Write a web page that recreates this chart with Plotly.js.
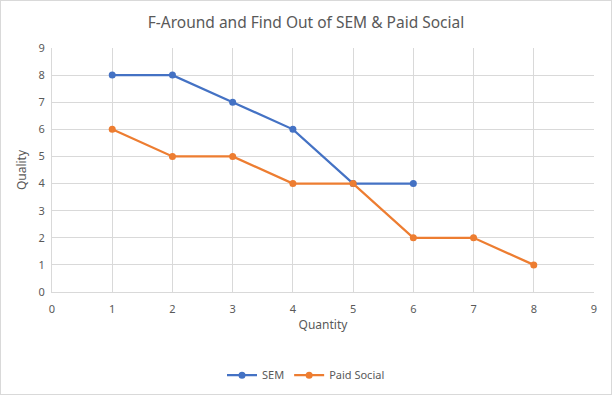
<!DOCTYPE html>
<html>
<head>
<meta charset="utf-8">
<script src="https://cdn.plot.ly/plotly-3.0.1.min.js"></script>
<style>
html,body{margin:0;padding:0;background:#fff;}
#chart{width:610px;height:393px;border:1px solid #d9d9d9;}
</style>
</head>
<body>
<div id="chart"></div>
<script>
const semX = [1, 2, 3, 4, 5, 6];
const semY = [8, 8, 7, 6, 4, 4];
const socialX = [1, 2, 3, 4, 5, 6, 7, 8];
const socialY = [6, 5, 5, 4, 4, 2, 2, 1];
const tickVals = [0, 1, 2, 3, 4, 5, 6, 7, 8, 9];

const fontFam = 'Noto Sans, Open Sans, sans-serif';
const traces = [
  {x: semX, y: semY, name: 'SEM', type: 'scatter', mode: 'lines+markers',
   line: {color: '#4472C4', width: 2.25}, marker: {color: '#4472C4', size: 7}},
  {x: socialX, y: socialY, name: 'Paid Social', type: 'scatter', mode: 'lines+markers',
   line: {color: '#ED7D31', width: 2.25}, marker: {color: '#ED7D31', size: 7}}
];
const axisCommon = {
  range: [0, 9], tickvals: tickVals, showgrid: true, gridcolor: '#d9d9d9', gridwidth: 1,
  zeroline: false, showline: true, linecolor: '#d9d9d9', linewidth: 1,
  ticks: 'outside', tickcolor: 'rgba(0,0,0,0)', automargin: false,
  tickfont: {family: fontFam, size: 11, color: '#595959'}, fixedrange: true
};
const layout = {
  width: 610, height: 393,
  margin: {l: 51, r: 17, t: 47, b: 102},
  paper_bgcolor: '#fff', plot_bgcolor: '#fff',
  title: {text: 'F-Around and Find Out of SEM &amp; Paid Social', x: 0.5, xanchor: 'center', y: 0.945, yanchor: 'middle',
          font: {family: fontFam, size: 15.5, color: '#595959'}},
  xaxis: Object.assign({}, axisCommon, {ticklen: 7,
          title: {text: 'Quantity', font: {family: fontFam, size: 12, color: '#595959'}, standoff: 5}}),
  yaxis: Object.assign({}, axisCommon, {ticklen: 4,
          title: {text: 'Quality', font: {family: fontFam, size: 12, color: '#595959'}, standoff: 9}}),
  showlegend: true,
  legend: {orientation: 'h', x: 0.5, xanchor: 'center', xref: 'container', yref: 'container', y: 0.048, yanchor: 'middle',
           font: {family: fontFam, size: 11, color: '#595959'}, itemwidth: 30}
};
Plotly.newPlot('chart', traces, layout, {displayModeBar: false, staticPlot: true});
</script>
</body>
</html>
